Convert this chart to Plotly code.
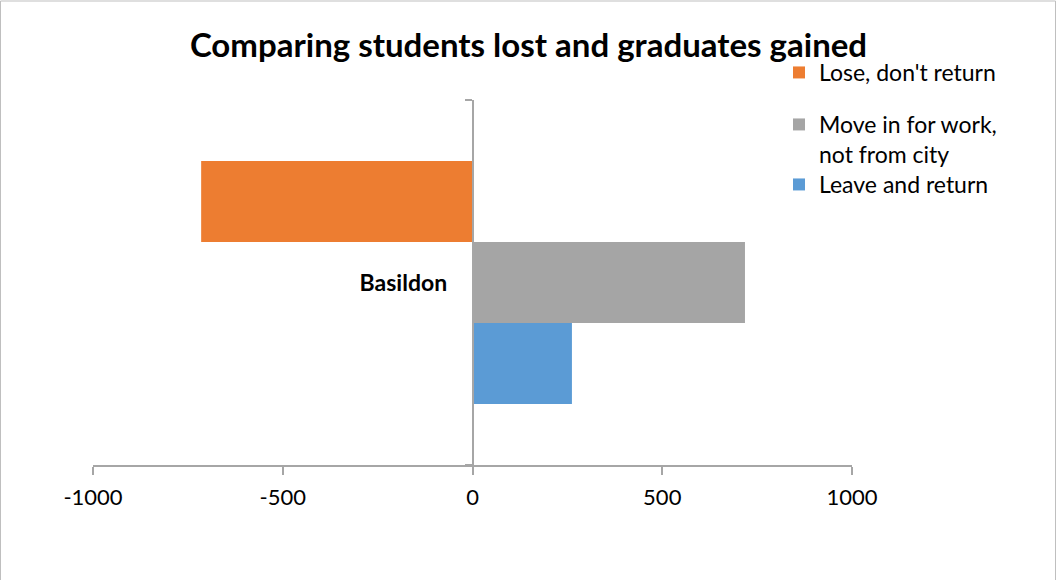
import plotly.graph_objects as go

categories = ["Basildon"]
series_names = ["Lose, don't return", "Move in for work,<br>not from city", "Leave and return"]
series_values = [[-715], [718], [262]]
series_colors = ["#ED7D31", "#A5A5A5", "#5B9BD5"]
tick_values = [-1000, -500, 0, 500, 1000]
tick_labels = ["-1000", "-500", "0", "500", "1000"]

W, H = 1057, 580
L, R, T, B = 93, 205, 100, 115
pw, ph = W - L - R, H - T - B

legend_ids = ["legend", "legend2", "legend3"]
legend_tops = [51, 103, 163]  # pixel tops of each legend entry

fig = go.Figure()
# plotly stacks grouped horizontal bars bottom-up, so add in reverse
for name, vals, col, lg in reversed(list(zip(series_names, series_values, series_colors, legend_ids))):
    fig.add_trace(go.Bar(y=categories, x=vals, name=name, orientation="h", legend=lg,
                         marker=dict(color=col, line=dict(width=0))))

axis_col = "#A6A6A6"
legend_x = (779 - L) / pw
leg_common = dict(x=legend_x, xanchor="left", yanchor="top", valign="top",
                  font=dict(size=23, color="#000000"), bgcolor="rgba(0,0,0,0)")

fig.update_layout(
    width=W, height=H,
    margin=dict(l=L, r=R, t=T, b=B),
    paper_bgcolor="white", plot_bgcolor="white",
    font=dict(family="Lato, 'Open Sans', sans-serif", color="#000000"),
    barmode="group", bargap=0.334, bargroupgap=0,
    title=dict(text="<b>Comparing students lost and graduates gained</b>",
               x=0.5, xref="container", xanchor="center",
               y=1 - 45 / H, yref="container", yanchor="middle",
               font=dict(size=33, color="#000000")),
    xaxis=dict(range=[-1000, 1000], tickvals=tick_values, ticktext=tick_labels,
               showgrid=False, zeroline=False, showline=True, linecolor=axis_col,
               linewidth=1.5, ticks="outside", ticklen=8, tickcolor=axis_col, tickwidth=1.5,
               ticklabelstandoff=4,
               tickfont=dict(size=22, color="#000000"), fixedrange=True),
    yaxis=dict(type="category", anchor="free", position=0.5, showline=True,
               linecolor=axis_col, linewidth=1.5, ticks="outside", tickson="boundaries",
               ticklen=7, tickcolor=axis_col, tickwidth=1.5, showgrid=False,
               ticklabelstandoff=20,
               tickfont=dict(size=23, color="#000000", weight="bold"),
               range=[-0.5, 0.5]),
    legend=dict(y=(H - B - legend_tops[0]) / ph, **leg_common),
    legend2=dict(y=(H - B - legend_tops[1]) / ph, **leg_common),
    legend3=dict(y=(H - B - legend_tops[2]) / ph, **leg_common),
    showlegend=True,
)

# chart border
fig.add_shape(type="rect", xref="paper", yref="paper",
              x0=(0.5 - L) / pw, x1=(W - 1.5 - L) / pw,
              y0=(H - B - (H + 5)) / ph, y1=(H - B - 1) / ph,
              line=dict(color="#BFBFBF", width=1), layer="below")

fig.write_html("out.html")
